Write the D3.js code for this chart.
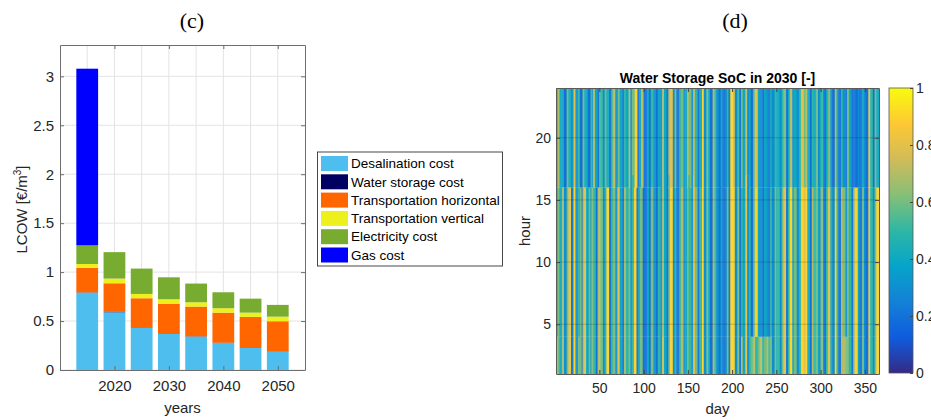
<!DOCTYPE html>
<html>
<head>
<meta charset="utf-8">
<script src="https://cdn.jsdelivr.net/npm/d3@7"></script>
<style>
  body { margin: 0; background: #fff; }
  svg { display: block; font-family: "Liberation Sans", Arial, Helvetica, sans-serif; }
</style>
</head>
<body>
<svg id="fig" width="931" height="420"></svg>
<script>
// ---------- (c) levelised cost of water, stacked by component ----------
const years = [2015, 2020, 2025, 2030, 2035, 2040, 2045, 2050];
const costNames = ["Desalination cost", "Water storage cost", "Transportation horizontal",
                   "Transportation vertical", "Electricity cost", "Gas cost"];
const desalination        = [0.790, 0.590, 0.436, 0.375, 0.341, 0.276, 0.232, 0.187];
const waterStorage        = [0.003, 0.003, 0.003, 0.003, 0.003, 0.003, 0.003, 0.003];
const transportHorizontal = [0.250, 0.293, 0.294, 0.300, 0.304, 0.307, 0.307, 0.308];
const transportVertical   = [0.040, 0.048, 0.044, 0.045, 0.044, 0.045, 0.044, 0.047];
const electricity         = [0.190, 0.270, 0.259, 0.224, 0.191, 0.163, 0.143, 0.120];
const gas                 = [1.805, 0, 0, 0, 0, 0, 0, 0];
const costColors = ["#4dbeee", "#000062", "#ff6600", "#eef01e", "#77ac30", "#0000ff"];
const lcowTicks = [0, 0.5, 1, 1.5, 2, 2.5, 3];
const yearTicks = [2020, 2030, 2040, 2050];
const yearGrid = [2015, 2020, 2025, 2030, 2035, 2040, 2045, 2050];

// ---------- (d) water storage state of charge, day x hour ----------
// Run-length coded levels: each token is <level 0-9><number of days>, level/10 = SoC.
// One series for the night block, one for the day block, one for the evening block.
const socLowRuns = [
  "72 62 43 72 33 62 83 22 51 92 33 62 62 21 72 82 43 62 31 62 53 22 73",
  "63 32 52 93 22 52 63 32 61 82 43 22 72 53 62 32 52 93 22 42 63 22",
  "23 42 22 63 33 22 53 32 82 43 22 62 93 32 52 23 52 73 32 42 62",
  "53 32 82 63 22 53 92 33 62 42 23 72 52 33 22 42 23 32 62 22 93",
  "92 33 62 22 72 43 82 32 52 63 72 53 62 73 52 63 72 52 62 33 62 41",
  "53 32 62 83 22 52 93 42 63 33 52 93 82 92 43 22 72 53 62 42 31 71",
  "62 23 52 83 42 33 92 52 23 72 73 62 62 53 22 72 93 42 23 62 32",
  "23 82 53 32 62 93"];
const socMidRuns = [
  "52 62 43 72 33 62 83 22 51 92 33 52 62 21 72 82 43 62 31 62 53 22 73",
  "63 32 52 93 22 52 63 32 61 82 43 22 72 53 62 32 52 93 22 42 63 22",
  "23 42 22 63 33 22 53 32 72 43 22 62 93 32 52 23 52 73 32 42 62",
  "53 32 82 63 22 53 92 33 62 42 23 72 52 33 22 42 23 32 62 22 93",
  "92 33 62 22 52 43 82 32 52 23 62 93 42 33 22 43 32 22 52 33 62 41",
  "53 32 62 83 22 52 93 42 63 33 52 93 82 92 43 22 72 53 62 42 31 71",
  "62 23 52 83 42 33 92 52 23 72 63 32 62 53 22 72 93 42 23 62 32",
  "23 82 53 32 62 93"];
const socHighRuns = [
  "52 72 43 42 23 62 43 32 51 82 33 52 23 62 42 42 23 52 31 72 43 22 61",
  "53 32 62 43 22 52 73 32 41 62 43 22 52 43 72 32 63 93 22 42 73 21",
  "23 42 22 53 33 22 43 32 72 43 22 72 83 32 62 23 52 63 32 42 72",
  "63 32 72 53 22 43 92 33 62 42 23 72 52 33 22 42 23 32 52 22 93",
  "82 33 52 22 62 43 72 32 42 23 62 83 42 33 22 43 32 22 42 33 52 41",
  "43 32 52 63 22 42 73 32 43 33 52 83 62 72 43 22 52 43 62 32 41 51",
  "52 23 42 63 32 23 72 42 23 52 33 22 62 43 22 23 22 32 23 42 32",
  "23 82 53 22 62 43"];
// Days whose day block runs one hour later / whose night block ends early or late.
const eveningStartsAt17 = [85, 86, 87, 88, 122, 123, 124, 125, 128, 129, 140, 141, 145, 146,
                           150, 151, 155, 156, 175, 186, 187, 215, 216, 217, 218, 219];
const nightEndsAt5 = [350, 351, 352, 354, 355, 357, 358];
const nightEndsAt3 = [118, 119, 135, 170];
const dayTicks = [50, 100, 150, 200, 250, 300, 350];
const hourTicks = [5, 10, 15, 20];
const socTicks = [0, 0.2, 0.4, 0.6, 0.8, 1];
const parula = ["#352a87", "#0f5cdd", "#1481d6", "#06a4ca", "#2eb7a4",
                "#87bf77", "#d1bb59", "#fec832", "#f9fb0e"];

// expand run-length tokens into one SoC value per day
function expandRuns(lines) {
  const out = [];
  lines.join(" ").trim().split(/\s+/).forEach(tok => {
    const level = +tok[0] / 10, n = +tok.slice(1);
    for (let k = 0; k < n; k++) out.push(level);
  });
  return out;
}
const socLow = expandRuns(socLowRuns);
const socMid = expandRuns(socMidRuns);
const socHigh = expandRuns(socHighRuns);

const svg = d3.select("#fig");
const axisGray = "#6e6e6e";
const textGray = "#262626";

// ===================== panel (c) =====================
svg.append("text").attr("x", 192).attr("y", 28).attr("text-anchor", "middle")
  .style("font-family", "'Liberation Serif','Times New Roman',serif").style("font-size", "22px")
  .attr("fill", "#000").text("(c)");

const cx = d3.scaleLinear().domain([2010, 2055]).range([60, 305]);
const cy = d3.scaleLinear().domain([0, 3.32]).range([370, 45]);
const gc = svg.append("g");

gc.append("rect").attr("x", cx(2010)).attr("y", cy(3.32))
  .attr("width", cx(2055) - cx(2010)).attr("height", cy(0) - cy(3.32)).attr("fill", "#fff");

// grid
gc.append("g").selectAll("line").data(yearGrid).join("line")
  .attr("x1", d => cx(d)).attr("x2", d => cx(d)).attr("y1", cy(0)).attr("y2", cy(3.32))
  .attr("stroke", "#e3e3e3").attr("stroke-width", 1);
gc.append("g").selectAll("line").data(lcowTicks).join("line")
  .attr("x1", cx(2010)).attr("x2", cx(2055)).attr("y1", d => cy(d)).attr("y2", d => cy(d))
  .attr("stroke", "#e3e3e3").attr("stroke-width", 1);

// stacked bars
const rows = years.map((yr, i) => {
  const o = { year: yr };
  const series = [desalination, waterStorage, transportHorizontal, transportVertical, electricity, gas];
  costNames.forEach((n, k) => { o[n] = series[k][i]; });
  return o;
});
const stacked = d3.stack().keys(costNames)(rows);
const barW = cx(2014) - cx(2010);
gc.append("g").selectAll("g").data(stacked).join("g")
  .attr("fill", (d, k) => costColors[k])
  .selectAll("rect").data(d => d).join("rect")
  .attr("x", d => cx(d.data.year) - barW / 2)
  .attr("width", barW)
  .attr("y", d => cy(d[1]))
  .attr("height", d => Math.max(0, cy(d[0]) - cy(d[1])));

// axes
const axL = gc.append("g").attr("transform", `translate(${cx(2010)},0)`)
  .call(d3.axisLeft(cy).tickValues(lcowTicks).tickFormat(d => String(d))
    .tickSize(-4).tickSizeOuter(0).tickPadding(6));
const axB = gc.append("g").attr("transform", `translate(0,${cy(0)})`)
  .call(d3.axisBottom(cx).tickValues(yearTicks).tickFormat(d => String(d))
    .tickSize(-4).tickSizeOuter(0).tickPadding(10));
const axR = gc.append("g").attr("transform", `translate(${cx(2055)},0)`)
  .call(d3.axisRight(cy).tickValues(lcowTicks).tickFormat("").tickSize(-4).tickSizeOuter(0));
const axT = gc.append("g").attr("transform", `translate(0,${cy(3.32)})`)
  .call(d3.axisTop(cx).tickValues(yearTicks).tickFormat("").tickSize(-4).tickSizeOuter(0));
[axL, axB, axR, axT].forEach(a => {
  a.select(".domain").attr("stroke", axisGray);
  a.selectAll(".tick line").attr("stroke", axisGray);
  a.selectAll("text").attr("fill", textGray).style("font-size", "15px")
    .style("font-family", "'Liberation Sans',Arial,sans-serif");
});

gc.append("text").attr("x", (cx(2010) + cx(2055)) / 2).attr("y", 413)
  .attr("text-anchor", "middle").attr("fill", textGray).style("font-size", "15px").text("years");
const ylab = gc.append("text")
  .attr("transform", `translate(27,${(cy(0) + cy(3.32)) / 2 + 2}) rotate(-90)`)
  .attr("text-anchor", "middle").attr("fill", textGray).style("font-size", "15px");
ylab.append("tspan").text("LCOW [€/m");
ylab.append("tspan").attr("dy", -6).style("font-size", "10px").text("3");
ylab.append("tspan").attr("dy", 6).text("]");

// legend
const lg = svg.append("g");
lg.append("rect").attr("x", 317.5).attr("y", 152).attr("width", 185).attr("height", 114)
  .attr("fill", "#fff").attr("stroke", "#333").attr("stroke-width", 0.9);
const legendY = d3.scalePoint().domain(costNames).range([163.5, 255]);
const li = lg.selectAll("g.item").data(costNames).join("g").attr("class", "item")
  .attr("transform", d => `translate(0,${legendY(d)})`);
li.append("rect").attr("x", 321).attr("y", -7.5).attr("width", 27).attr("height", 15)
  .attr("fill", (d, k) => costColors[k]);
li.append("text").attr("x", 351).attr("y", 0).attr("dy", "0.35em")
  .attr("fill", "#000").style("font-size", "13.5px").text(d => d);

// ===================== panel (d) =====================
svg.append("text").attr("x", 735).attr("y", 28).attr("text-anchor", "middle")
  .style("font-family", "'Liberation Serif','Times New Roman',serif").style("font-size", "22px")
  .attr("fill", "#000").text("(d)");

const hx = d3.scaleLinear().domain([1, 366]).range([556, 879]);
const hy = d3.scaleLinear().domain([1, 24]).range([374, 88]);
const socColor = d3.scaleLinear().domain(parula.map((c, i) => i / (parula.length - 1)))
  .range(parula).interpolate(d3.interpolateRgb).clamp(true);

const cells = [];
for (let i = 0; i < 365; i++) {
  const day = i + 1;
  const nightTop = nightEndsAt5.includes(day) ? 5 : nightEndsAt3.includes(day) ? 3 : 4;
  const eveStart = eveningStartsAt17.includes(day) ? 17 : 16;
  cells.push({ day, h0: 1, h1: nightTop, v: socLow[i] });
  cells.push({ day, h0: nightTop, h1: eveStart, v: socMid[i] });
  cells.push({ day, h0: eveStart, h1: 24, v: socHigh[i] });
}

const defs = svg.append("defs");
defs.append("clipPath").attr("id", "hmClip").append("rect")
  .attr("x", hx(1)).attr("y", hy(24)).attr("width", hx(366) - hx(1)).attr("height", hy(1) - hy(24));

const gh = svg.append("g");
gh.append("g").attr("clip-path", "url(#hmClip)")
  .selectAll("rect").data(cells.filter(c => c.v !== undefined)).join("rect")
  .attr("x", d => hx(d.day))
  .attr("width", d => hx(d.day + 1) - hx(d.day) + 0.45)
  .attr("y", d => hy(d.h1))
  .attr("height", d => hy(d.h0) - hy(d.h1))
  .attr("fill", d => socColor(d.v));

// faint grid over the field
gh.append("g").selectAll("line").data(hourTicks).join("line")
  .attr("x1", hx(1)).attr("x2", hx(366)).attr("y1", d => hy(d)).attr("y2", d => hy(d))
  .attr("stroke", "rgba(30,30,30,0.22)").attr("stroke-width", 1);

const hL = gh.append("g").attr("transform", `translate(${hx(1)},0)`)
  .call(d3.axisLeft(hy).tickValues(hourTicks).tickFormat(d => String(d))
    .tickSize(-4).tickSizeOuter(0).tickPadding(5));
const hB = gh.append("g").attr("transform", `translate(0,${hy(1)})`)
  .call(d3.axisBottom(hx).tickValues(dayTicks).tickFormat(d => String(d))
    .tickSize(-4).tickSizeOuter(0).tickPadding(9));
const hR = gh.append("g").attr("transform", `translate(${hx(366)},0)`)
  .call(d3.axisRight(hy).tickValues(hourTicks).tickFormat("").tickSize(-4).tickSizeOuter(0));
const hT = gh.append("g").attr("transform", `translate(0,${hy(24)})`)
  .call(d3.axisTop(hx).tickValues(dayTicks).tickFormat("").tickSize(-4).tickSizeOuter(0));
[hL, hB, hR, hT].forEach(a => {
  a.select(".domain").attr("stroke", "#5a5a5a");
  a.selectAll(".tick line").attr("stroke", "#444");
  a.selectAll("text").attr("fill", textGray).style("font-size", "14px")
    .style("font-family", "'Liberation Sans',Arial,sans-serif");
});

gh.append("text").attr("x", (hx(1) + hx(366)) / 2).attr("y", 83).attr("text-anchor", "middle")
  .attr("fill", "#000").style("font-size", "14px").style("font-weight", "bold")
  .text("Water Storage SoC in 2030 [-]");
gh.append("text").attr("x", (hx(1) + hx(366)) / 2).attr("y", 414).attr("text-anchor", "middle")
  .attr("fill", textGray).style("font-size", "15px").text("day");
gh.append("text").attr("transform", `translate(530,${(hy(1) + hy(24)) / 2}) rotate(-90)`)
  .attr("text-anchor", "middle").attr("fill", textGray).style("font-size", "15px").text("hour");

// colour bar
const cbY = d3.scaleLinear().domain([0, 1]).range([373, 88]);
const grad = defs.append("linearGradient").attr("id", "socGrad")
  .attr("x1", 0).attr("y1", 1).attr("x2", 0).attr("y2", 0);
grad.selectAll("stop").data(d3.range(0, 1.0001, 0.025)).join("stop")
  .attr("offset", d => d).attr("stop-color", d => socColor(d));
gh.append("rect").attr("x", 889).attr("y", cbY(1)).attr("width", 24).attr("height", cbY(0) - cbY(1))
  .attr("fill", "url(#socGrad)").attr("stroke", "#555").attr("stroke-width", 0.8);
const cbA = gh.append("g").attr("transform", "translate(913,0)")
  .call(d3.axisRight(cbY).tickValues(socTicks).tickFormat(d => String(d))
    .tickSize(-3).tickSizeOuter(0).tickPadding(3));
cbA.select(".domain").remove();
cbA.selectAll(".tick line").attr("stroke", "#444");
cbA.selectAll("text").attr("fill", textGray).style("font-size", "14px");
</script>
</body>
</html>
